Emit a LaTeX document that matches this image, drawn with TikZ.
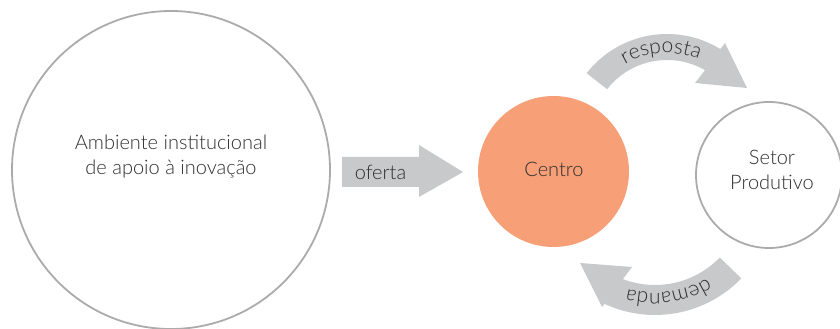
\documentclass[tikz,border=0pt]{standalone}
\usepackage{fontspec}
\setmainfont{Lato}[UprightFont=* Light]
\usetikzlibrary{decorations.text}
\definecolor{ringgray}{HTML}{ABABAB}
\definecolor{bandgray}{HTML}{C8C9CA}
\definecolor{coral}{HTML}{F7A077}
\definecolor{ink}{HTML}{2E2E2E}
\newcommand{\labelfont}{\fontsize{20}{25}\selectfont}
\newcommand{\arcfont}{\fontsize{21}{25}\selectfont}
\begin{document}
\begin{tikzpicture}[x=1pt,y=1pt,font=\labelfont,text=ink,
  ring/.style={circle,draw=ringgray,line width=1.8pt,inner sep=0pt},
  disc/.style={circle,fill=coral,inner sep=0pt},
  band/.style={fill=bandgray,draw=none},
  lbl/.style={anchor=base,inner sep=0pt}]
\useasboundingbox (0,0) rectangle (840,329);

% the three circles
\node[ring,minimum size=318pt] (amb) at (171,159) {};
\node[disc,minimum size=151pt] (centro) at (553.5,157.5) {};
\node[ring,minimum size=146pt] (setor) at (769,154) {};

% labels inside the circles
\node[lbl] (ambA) at (171,179) {Ambiente institucional};
\node[lbl] (ambB) at (171,154) {de apoio à inovação};
\node[lbl] (centroL) at (554,152) {Centro};
\node[lbl] (setorA) at (772,164) {Setor};
\node[lbl] (setorB) at (772,139) {Produtivo};

% straight arrow: oferta
\fill[band] (342,142) -- (419,142) -- (419,132) -- (463,157) -- (419,184)
  -- (419,172) -- (342,172) -- cycle;
\node[lbl] (oferta) at (380.5,149) {oferta};

% curved arrow on top: resposta
\coordinate (c1) at (667,193);
\fill[band] ([shift={(c1)}]142:102pt) arc[start angle=142,end angle=58.5,radius=102pt]
  -- (725,286) -- (747,241) -- (695,246)
  -- ([shift={(c1)}]60:76pt) arc[start angle=60,end angle=142,radius=76pt] -- cycle;
\path[decorate,decoration={text along path,text align=center,text color=ink,
  text={|\arcfont|resposta}}]
  ([shift={(c1)}]140:83pt) arc[start angle=140,end angle=48,radius=83pt];

% curved arrow at the bottom: demanda
\coordinate (c2) at (655,134);
\fill[band] ([shift={(c2)}]-44:120pt) arc[start angle=-44,end angle=-114.9,radius=120pt]
  -- (602,22) -- (580,66) -- (632,62)
  -- ([shift={(c2)}]-110.9:90pt) arc[start angle=-110.9,end angle=-44,radius=90pt] -- cycle;
\path[decorate,decoration={text along path,text align=center,text color=ink,
  text={|\arcfont|demanda}}]
  ([shift={(c2)}]-40:98pt) arc[start angle=-40,end angle=-124,radius=98pt];
\end{tikzpicture}
\end{document}
